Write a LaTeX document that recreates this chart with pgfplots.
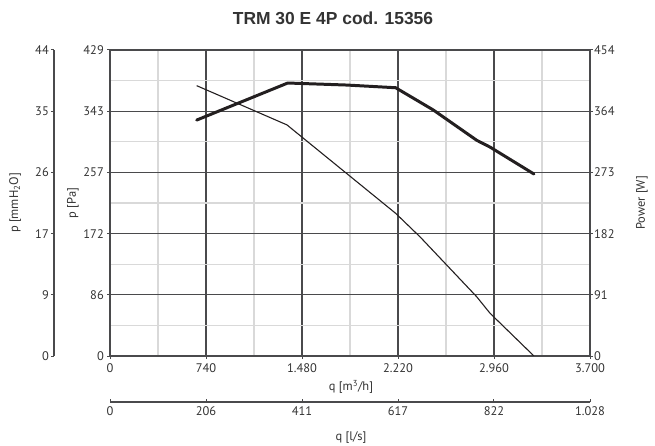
\documentclass[border=0pt]{standalone}
\usepackage{fontspec}
\setmainfont{PT Sans}
\newfontfamily\titlefont{Liberation Sans}
\usepackage{pgfplots}
\pgfplotsset{compat=1.18}

\definecolor{axisgrey}{HTML}{4A4A4C}
\definecolor{minorgrey}{HTML}{D9D9D9}
\definecolor{curve}{HTML}{231F20}
\definecolor{labelgrey}{HTML}{333333}

\newcommand{\lblfont}{\fontsize{12.5}{15}\selectfont}

\pgfplotsset{
  fanstyle/.style={
    scale only axis,
    anchor=south west,
    tick align=outside,
    major tick length=3bp,
    tick style={axisgrey, line width=1pt},
    axis line style={axisgrey, line width=1.5pt},
    ticklabel style={font=\lblfont, text=labelgrey, inner sep=1bp},
    /pgf/number format/assume math mode=true,
  }
}

\begin{document}
\begin{tikzpicture}
\useasboundingbox (0,0) rectangle (655bp,446bp);

% main axis, pressure in Pa
\begin{axis}[fanstyle,
  at={(110bp,90bp)}, width=480bp, height=306bp,
  xmin=0, xmax=3700, ymin=0, ymax=429,
  xtick={0,740,1480,2220,2960,3700},
  xticklabels={0,740,1.480,2.220,2.960,3.700},
  ytick={0,85.8,171.6,257.4,343.2,429},
  yticklabels={0,86,172,257,343,429},
  minor xtick={370,1110,1850,2590,3330},
  minor ytick={42.9,128.7,214.5,300.3,386.1},
  minor tick length=0pt,
  tick pos=left,
  grid=both,
  major grid style={axisgrey, line width=1.1pt},
  minor grid style={minorgrey, line width=1.3pt},
  xticklabel style={yshift=-3bp},
  yticklabel style={xshift=-2bp},
]
\addplot[curve, line width=1.1pt, line join=round] coordinates {
  (668,379) (1364,324) (2202,200) (2390,167) (2827,83) (2929,60) (3268,0)
};
\end{axis}

% power axis on the right
\begin{axis}[fanstyle,
  at={(110bp,90bp)}, width=480bp, height=306bp,
  xmin=0, xmax=3700, ymin=0, ymax=454,
  hide x axis,
  axis y line*=right,
  ytick={0,90.8,181.6,272.4,363.2,454},
  yticklabels={0,91,182,273,364,454},
  yticklabel style={anchor=west, xshift=0bp, text depth=0pt},
]
\addplot[curve, line width=3pt, line join=round, line cap=round] coordinates {
  (668,350) (1370,405) (1825,402) (2202,398) (2492,365) (2827,320) (2929,310) (3268,270)
};
\end{axis}

% outer left axis, mmH2O
\begin{axis}[fanstyle,
  at={(54bp,90bp)}, width=1bp, height=306bp,
  xmin=0, xmax=1, ymin=0, ymax=43.75,
  hide x axis,
  axis y line*=left,
  ytick={0,8.75,17.5,26.25,35,43.75},
  yticklabels={0,9,17,26,35,44},
  yticklabel style={xshift=-1bp},
]
\end{axis}

% lower axis, l/s
\begin{axis}[fanstyle,
  at={(110bp,44bp)}, width=480bp, height=1bp,
  xmin=0, xmax=1027.8, ymin=0, ymax=1,
  hide y axis,
  axis x line*=bottom,
  tick align=inside,
  xtick={0,205.56,411.11,616.67,822.22,1027.8},
  xticklabels={0,206,411,617,822,1.028},
  xticklabel style={yshift=-3bp},
]
\end{axis}

\node[font=\titlefont\fontsize{17.5}{21}\selectfont\bfseries, text=labelgrey] at (333bp,428bp) {TRM 30 E 4P cod. 15356};
\node[rotate=90, font=\lblfont, text=labelgrey] at (15bp,243bp) {p [mmH\textsubscript{2}O]};
\node[rotate=90, font=\lblfont, text=labelgrey] at (73bp,243bp) {p [Pa]};
\node[rotate=90, font=\lblfont, text=labelgrey] at (642bp,243bp) {Power [W]};
\node[font=\lblfont, text=labelgrey] at (351bp,59bp) {q [m\textsuperscript{3}/h]};
\node[font=\lblfont, text=labelgrey] at (351bp,9bp) {q [l/s]};
\end{tikzpicture}
\end{document}
